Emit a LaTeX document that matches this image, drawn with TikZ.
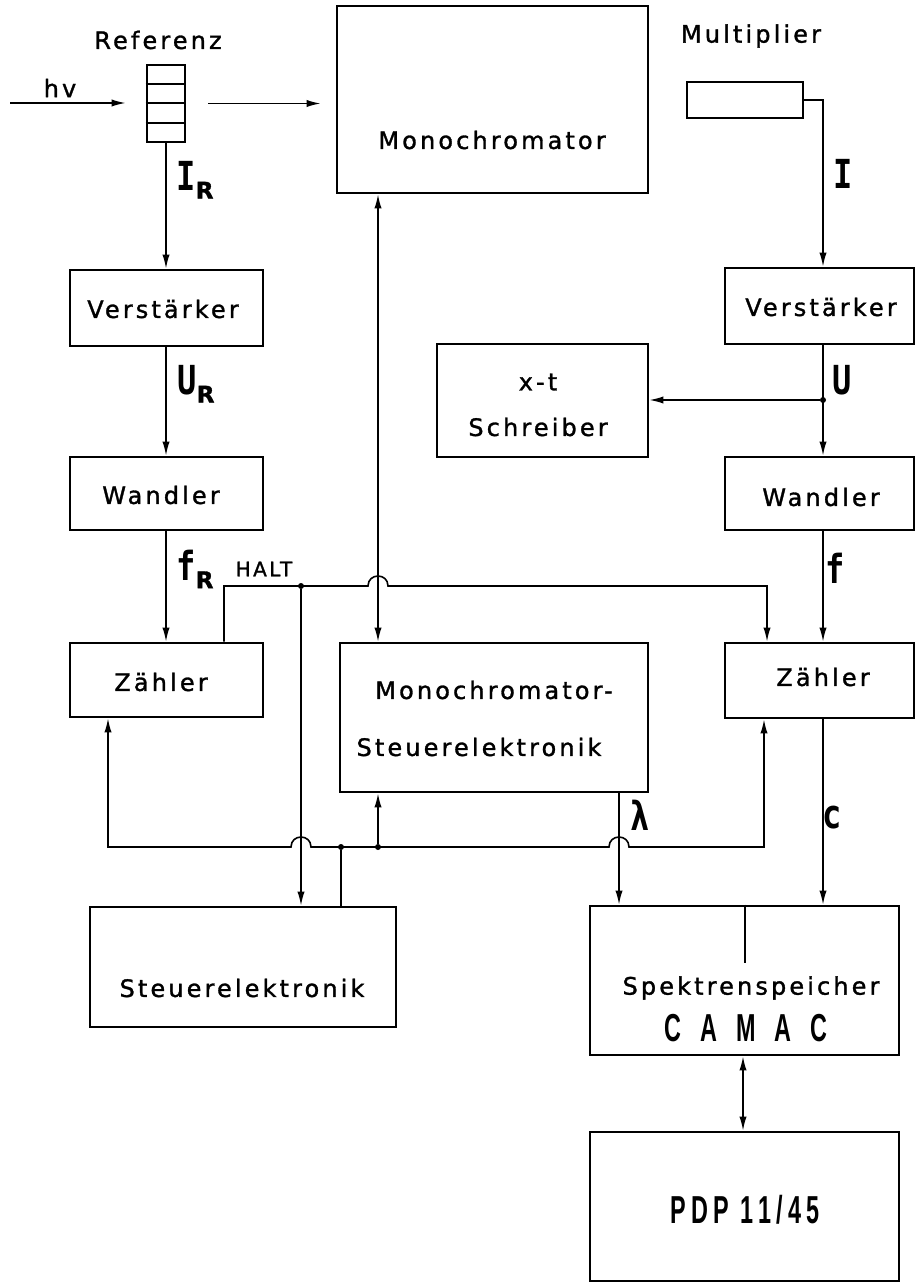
\documentclass[tikz,border=0pt]{standalone}
\usepackage{fontspec}
\usetikzlibrary{arrows.meta,fit,calc}
\newfontfamily\mf{DejaVu Sans}[LetterSpace=13,FakeBold=1.3]
\newfontfamily\smf{DejaVu Sans}[LetterSpace=12,FakeBold=1.2]
\newfontfamily\symf{DejaVu Sans Mono}[FakeStretch=0.8]
\newfontfamily\condf{Liberation Sans}[FakeStretch=0.6]
\newcommand{\subR}{\raisebox{-4pt}{\fontsize{11.5pt}{14pt}\mf R}}
\begin{document}
\begin{tikzpicture}[x=0.5pt,y=-0.5pt,
  box/.style={draw, line width=1.3pt, inner sep=0pt},
  txt/.style={font=\fontsize{12pt}{14pt}\mf, inner sep=0pt},
  sym/.style={font=\fontsize{20pt}{21pt}\symf\bfseries, inner sep=0pt},
  big/.style={font=\fontsize{19.5pt}{21pt}\condf\bfseries, inner sep=0pt},
  wire/.style={line width=0.8pt},
  arr/.style={wire, -{Latex[length=7pt,width=3.6pt]}},
  darr/.style={wire, {Latex[length=7pt,width=3.6pt]}-{Latex[length=7pt,width=3.6pt]}},
  dot/.style={circle, fill, inner sep=0pt, minimum size=3pt}
]
\useasboundingbox (0,0) rectangle (916,1283);
\fill[white] (0,0) rectangle (916,1283);

% column / row helpers
\coordinate (cL) at (166,0);
\coordinate (cM) at (378,0);
\coordinate (cH) at (301,0);
\coordinate (cS) at (341,0);
\coordinate (cR) at (823,0);
\coordinate (cZ) at (767,0);
\coordinate (cZB) at (764,0);
\coordinate (cLam) at (619,0);
\coordinate (cZL) at (108,0);
\coordinate (cHL) at (224,0);
\coordinate (cD) at (745,0);
\coordinate (cP) at (743,0);
\coordinate (rH) at (0,586);
\coordinate (rB) at (0,847);

% ---------- boxes ----------
\node[box, fit={(147,65)(185,142)}] (ref) {};
\draw[line width=1pt] ($(ref.north west)!0.25!(ref.south west)$) -- ($(ref.north east)!0.25!(ref.south east)$);
\draw[line width=1pt] (ref.west) -- (ref.east);
\draw[line width=1pt] ($(ref.north west)!0.75!(ref.south west)$) -- ($(ref.north east)!0.75!(ref.south east)$);
\node[txt] (reflabel) at (158,40) {Referenz};

\node[box, fit={(337,6)(648,193)}] (mono) {};
\node[txt] (monotext) at (492,140) {Monochromator};

\node[txt] (multlabel) at (751,36) {Multiplier};
\node[box, fit={(687,82)(803,118)}] (mult) {};

\node[box, fit={(70,270)(263,346)}] (vL) {};
\node[txt] (vLt) at (163,309) {Verstärker};
\node[box, fit={(70,457)(263,530)}] (wL) {};
\node[txt] (wLt) at (161,495) {Wandler};
\node[box, fit={(70,643)(263,717)}] (zL) {};
\node[txt] (zLt) at (161,682) {Zähler};

\node[box, fit={(725,268)(914,344)}] (vR) {};
\node[txt] (vRt) at (821,307) {Verstärker};
\node[box, fit={(725,457)(914,530)}] (wR) {};
\node[txt] (wRt) at (821,497) {Wandler};
\node[box, fit={(725,643)(914,718)}] (zR) {};
\node[txt] (zRt) at (823,677) {Zähler};

\node[box, fit={(437,344)(648,457)}] (xt) {};
\node[txt] (xt1) at (538,382) {x-t};
\node[txt] (xt2) at (538,427) {Schreiber};

\node[box, fit={(340,643)(648,792)}] (ms) {};
\node[txt] (ms1) at (494,690) {Monochromator-};
\node[txt] (ms2) at (479,747) {Steuerelektronik};

\node[box, fit={(90,907)(396,1027)}] (st) {};
\node[txt] (sttext) at (242,988) {Steuerelektronik};

\node[box, fit={(590,906)(899,1055)}] (sp) {};
\node[txt] (sp1) at (751,988) {Spektrenspeicher};
\node[big] (sp2) at (746,1028) {C\hspace{9.5pt}A\hspace{9.5pt}M\hspace{9.5pt}A\hspace{9.5pt}C};

\node[box, fit={(590,1132)(899,1281)}] (pdp) {};
\node[big] (pdptext) at (745,1210) {P\kern2.5pt D\kern2.5pt P\kern2.5pt\ 1\kern2.5pt 1\kern2.5pt /\kern2.5pt 4\kern2.5pt 5};

% ---------- labels ----------
\node[txt] (hv) at (60,88) {hv};
\node[sym] (lIR) at (195,180) {I\subR};
\node[sym] (lUR) at (196,384) {U\subR};
\node[sym] (lfR) at (195,569) {f\subR};
\node[font=\fontsize{10pt}{12pt}\smf, inner sep=0pt] (halt) at (264,569) {HALT};
\node[sym] (lI) at (843,174) {I};
\node[sym] (lU) at (842,380) {U};
\node[sym] (lf) at (835,568) {f};
\node[sym] (lc) at (832,818) {c};
\node[sym] (llam) at (640,815) {λ};

% ---------- connectors ----------
\coordinate (hvs) at (10,103);
\draw[arr, shorten >=10pt] (hvs) -- (hvs -| ref.west);
\draw[arr, shorten <=11pt, shorten >=7.5pt] (ref.east) -- (ref.east -| mono.west);

\draw[arr] (ref.south) -- (vL.north -| ref.south);
\draw[arr] (vL.south -| cL) -- (wL.north -| cL);
\draw[arr] (wL.south -| cL) -- (zL.north -| cL);

\draw[darr] (mono.south -| cM) -- (ms.north -| cM);

\draw[arr] (mult.east) -| (vR.north -| cR);
\draw[arr] (vR.south -| cR) -- (wR.north -| cR);
\node[dot] (jU) at (cR |- 0,400) {};
\draw[arr] (jU) -- (jU -| xt.east);
\draw[arr] (wR.south -| cR) -- (zR.north -| cR);
\draw[arr] (zR.south -| cR) -- (sp.north -| cR);

% HALT line
\draw[arr] (zL.north -| cHL) -- (cHL |- rH)
  -- ($(cM |- rH)+(-10,0)$) .. controls +(0,-13.3) and +(0,-13.3) .. ($(cM |- rH)+(10,0)$)
  -- (cZ |- rH) -- (zR.north -| cZ);
\node[dot] (jH) at (cH |- rH) {};
\draw[arr] (jH) -- (st.north -| cH);

% bus
\draw[wire, {Latex[length=7pt,width=3.6pt]}-{Latex[length=7pt,width=3.6pt]}]
  (zL.south -| cZL) -- (cZL |- rB)
  -- ($(cH |- rB)+(-10,0)$) .. controls +(0,-13.3) and +(0,-13.3) .. ($(cH |- rB)+(10,0)$)
  -- ($(cLam |- rB)+(-10,0)$) .. controls +(0,-13.3) and +(0,-13.3) .. ($(cLam |- rB)+(10,0)$)
  -- (cZB |- rB) -- (zR.south -| cZB);
\node[dot] (jS) at (cS |- rB) {};
\draw[wire] (st.north -| cS) -- (jS);
\node[dot] (jM) at (cM |- rB) {};
\draw[arr] (jM) -- (ms.south -| cM);

\draw[arr] (ms.south -| cLam) -- (sp.north -| cLam);

\coordinate (dEnd) at (745,963);
\draw[wire] (sp.north -| cD) -- (dEnd);
\draw[darr] (sp.south -| cP) -- (pdp.north -| cP);
\end{tikzpicture}
\end{document}
